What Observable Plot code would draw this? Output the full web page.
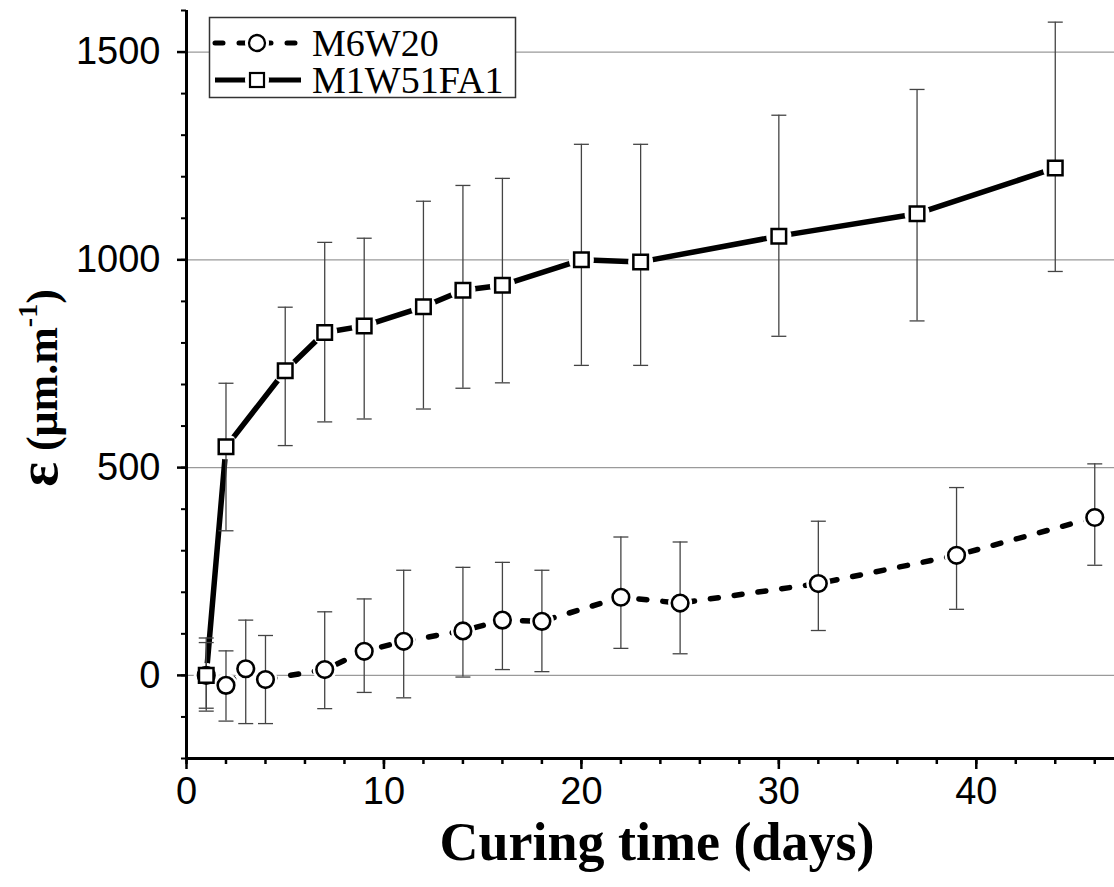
<!DOCTYPE html>
<html><head><meta charset="utf-8">
<script src="https://cdn.jsdelivr.net/npm/d3@7"></script>
<script src="https://cdn.jsdelivr.net/npm/@observablehq/plot@0.6"></script>
<style>body{margin:0;background:#fff;} svg{display:block}</style>
</head><body><div id="chart"></div>
<script>
// ---- data ----
const seriesNames = ["M6W20", "M1W51FA1"];

const m6Days = [1, 2, 3, 4, 7, 9, 11, 14, 16, 18, 22, 25, 32, 39, 46];
const m6Mean = [0, -24, 16, -10, 14, 58, 82, 107, 133, 130, 188, 174, 221, 289, 380];
const m6Lo   = [-79, -110, -116, -116, -80, -41, -54, -4, 14, 9, 65, 52, 108, 159, 265];
const m6Hi   = [79, 59, 133, 96, 153, 184, 253, 260, 272, 253, 333, 321, 371, 452, 509];

const m1Days = [1, 2, 5, 7, 9, 12, 14, 16, 20, 23, 30, 37, 44];
const m1Mean = [0, 550, 733, 825, 841, 887, 927, 939, 1000, 995, 1057, 1111, 1221];
const m1Lo   = [-86, 348, 553, 610, 617, 641, 691, 704, 746, 746, 816, 853, 972];
const m1Hi   = [90, 703, 886, 1042, 1052, 1141, 1179, 1196, 1278, 1278, 1348, 1410, 1572];

const xMajorTicks = [0, 10, 20, 30, 40];
const xMinorTicks = d3.range(0, 47, 2);
const yMajorTicks = [0, 500, 1000, 1500];
const yMinorTicks = d3.range(-200, 1601, 100);
const xTitle = "Curing time (days)";

// ---- build tables ----
const m6 = m6Days.map((d, i) => ({day: d, mean: m6Mean[i], lo: m6Lo[i], hi: m6Hi[i]}));
const m1 = m1Days.map((d, i) => ({day: d, mean: m1Mean[i], lo: m1Lo[i], hi: m1Hi[i]}));

const capSymbol = {draw(ctx, size) { const r = Math.sqrt(size / Math.PI); ctx.moveTo(-r, 0); ctx.lineTo(r, 0); }};

const W = 1114, H = 887;
const errStroke = "#444";
const dash = "8,16";
const plot = Plot.plot({
  width: W, height: H,
  marginLeft: 186, marginRight: 0, marginTop: 10, marginBottom: 129,
  style: {background: "#fff", fontFamily: "'Liberation Sans', Arial, sans-serif", color: "#000"},
  x: {domain: [0, 47]},
  y: {domain: [-200, 1600]},
  marks: [
    Plot.gridY(yMajorTicks, {stroke: "#9a9a9a", strokeOpacity: 1, strokeWidth: 1.2}),
    Plot.line(m6, {x: "day", y: "mean", stroke: "#000", strokeWidth: 5.5, strokeDasharray: dash, strokeLinecap: "round"}),
    Plot.line(m1, {x: "day", y: "mean", stroke: "#000", strokeWidth: 5.5}),
    Plot.dot(m6, {x: "day", y: "mean", r: 12, fill: "#fff", stroke: null}),
    Plot.dot(m1, {x: "day", y: "mean", r: 12.5, fill: "#fff", stroke: null}),
    Plot.ruleX(m6, {x: "day", y1: "lo", y2: "hi", stroke: errStroke, strokeWidth: 1.3}),
    Plot.dot(m6, {x: "day", y: "lo", symbol: capSymbol, r: 7.5, stroke: errStroke, strokeWidth: 1.3}),
    Plot.dot(m6, {x: "day", y: "hi", symbol: capSymbol, r: 7.5, stroke: errStroke, strokeWidth: 1.3}),
    Plot.ruleX(m1, {x: "day", y1: "lo", y2: "hi", stroke: errStroke, strokeWidth: 1.3}),
    Plot.dot(m1, {x: "day", y: "lo", symbol: capSymbol, r: 7.5, stroke: errStroke, strokeWidth: 1.3}),
    Plot.dot(m1, {x: "day", y: "hi", symbol: capSymbol, r: 7.5, stroke: errStroke, strokeWidth: 1.3}),
    Plot.dot(m6, {x: "day", y: "mean", r: 8.3, fill: "#fff", stroke: "#000", strokeWidth: 2.6}),
    Plot.dot(m1, {x: "day", y: "mean", symbol: "square", r: 8.2, fill: "#fff", stroke: "#000", strokeWidth: 2.5}),
    Plot.ruleX([0], {stroke: "#000", strokeWidth: 3}),
    Plot.ruleY([-200], {stroke: "#000", strokeWidth: 3}),
    Plot.axisY(yMinorTicks, {tickSize: 5, tickFormat: () => "", strokeWidth: 2, label: null}),
    Plot.axisY(yMajorTicks, {tickSize: 9, tickPadding: 17, fontSize: 38, strokeWidth: 2.5, tickFormat: d => String(d), label: null}),
    Plot.axisX(xMinorTicks, {tickSize: 6, tickFormat: () => "", strokeWidth: 2.5, label: null}),
    Plot.axisX(xMajorTicks, {tickSize: 11, tickPadding: 8, fontSize: 38, strokeWidth: 2.5, tickFormat: d => String(d), label: null})
  ]
});
document.getElementById("chart").appendChild(plot);

// ---- titles and legend ----
const svg = d3.select(plot);
const serif = "'Liberation Serif', 'Times New Roman', serif";
svg.append("text")
  .attr("x", 657).attr("y", 860)
  .attr("text-anchor", "middle")
  .attr("font-family", serif)
  .attr("font-weight", "bold").attr("font-size", 54).attr("fill", "#000")
  .text(xTitle);

const yt = svg.append("text")
  .attr("transform", "translate(57,388) rotate(-90)")
  .attr("text-anchor", "middle")
  .attr("font-family", serif)
  .attr("font-weight", "bold").attr("font-size", 44).attr("fill", "#000");
yt.append("tspan").attr("font-size", 58).text("ε");
yt.append("tspan").text(" (μm.m");
yt.append("tspan").attr("font-size", 28).attr("dy", -20).text("-1");
yt.append("tspan").attr("dy", 20).text(")");

const lg = svg.append("g").attr("text-anchor", "start");
lg.append("rect").attr("x", 209.5).attr("y", 17.5).attr("width", 306).attr("height", 80)
  .attr("fill", "#fff").attr("stroke", "#333").attr("stroke-width", 1.5);
const rows = [
  {name: seriesNames[0], cy: 43, dash: dash, sym: "circle"},
  {name: seriesNames[1], cy: 80, dash: null, sym: "square"}
];
rows.forEach(r => {
  const ln = lg.append("line").attr("x1", 215).attr("x2", 301).attr("y1", r.cy).attr("y2", r.cy)
    .attr("stroke", "#000").attr("stroke-width", 5)
    .attr("stroke-linecap", r.dash ? "round" : "butt");
  if (r.dash) ln.attr("stroke-dasharray", r.dash);
  lg.append("circle").attr("cx", 257).attr("cy", r.cy).attr("r", 12).attr("fill", "#fff").attr("stroke", "none");
  if (r.sym === "circle") {
    lg.append("circle").attr("cx", 257).attr("cy", r.cy).attr("r", 8).attr("fill", "#fff")
      .attr("stroke", "#000").attr("stroke-width", 2.3);
  } else {
    lg.append("rect").attr("x", 250).attr("y", r.cy - 7).attr("width", 14).attr("height", 14)
      .attr("fill", "#fff").attr("stroke", "#000").attr("stroke-width", 2.2);
  }
  lg.append("text").attr("x", 312).attr("y", r.cy + 13).attr("text-anchor", "start")
    .attr("font-family", serif)
    .attr("font-size", 38).attr("fill", "#000").text(r.name);
});
</script>
</body></html>
